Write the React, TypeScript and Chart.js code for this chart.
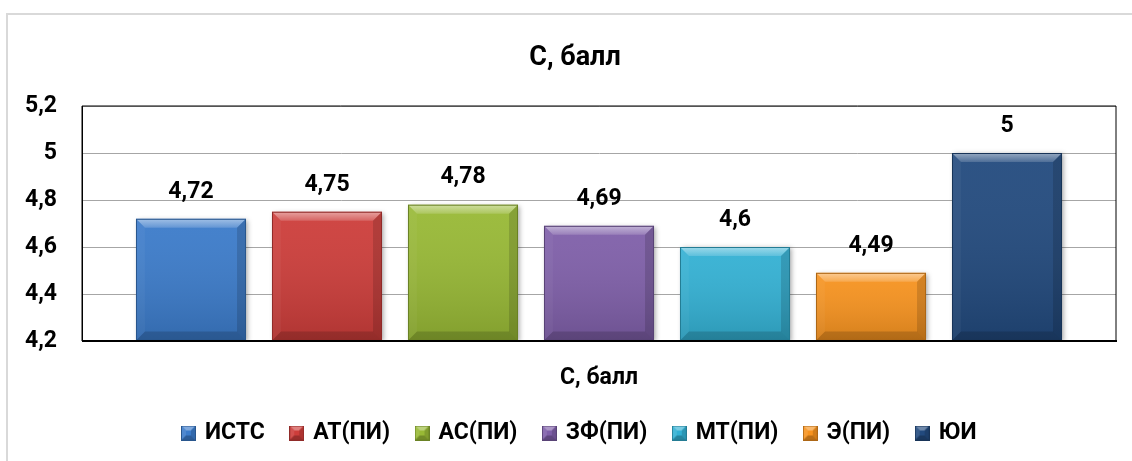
import React, { useEffect, useRef } from 'react';
import { Chart, registerables } from 'chart.js';

Chart.register(...registerables);

const categories = ['С, балл'];
const seriesNames = ['ИСТС', 'АТ(ПИ)', 'АС(ПИ)', 'ЗФ(ПИ)', 'МТ(ПИ)', 'Э(ПИ)', 'ЮИ'];
const seriesValues = [4.72, 4.75, 4.78, 4.69, 4.6, 4.49, 5];
const seriesColors = ['#3b7bca', '#cd3d3a', '#98b935', '#7f5fa9', '#33b1d4', '#f7931f', '#224a7e'];
const yMin = 4.2;
const yMax = 5.2;
const yStep = 0.2;
const titleText = 'С, балл';

const FONT = 'Roboto, "Noto Sans", sans-serif';
const fmt = (v: number) => String(Number(v.toFixed(2))).replace('.', ',');

function hexToRgb(h: string) {
  const n = parseInt(h.slice(1), 16);
  return [(n >> 16) & 255, (n >> 8) & 255, n & 255];
}
function mix(h: string, other: string, t: number) {
  const a = hexToRgb(h);
  const b = hexToRgb(other);
  const c = a.map((v, i) => Math.round(v + (b[i] - v) * t));
  return `rgb(${c[0]},${c[1]},${c[2]})`;
}

function poly(ctx: CanvasRenderingContext2D, pts: number[][], fill: any) {
  ctx.beginPath();
  ctx.moveTo(pts[0][0], pts[0][1]);
  for (let i = 1; i < pts.length; i++) ctx.lineTo(pts[i][0], pts[i][1]);
  ctx.closePath();
  ctx.fillStyle = fill;
  ctx.fill();
}

function makeLegendIcon(color: string) {
  const c = document.createElement('canvas');
  c.width = 15;
  c.height = 15;
  const g = c.getContext('2d') as CanvasRenderingContext2D;
  const s = 15;
  const b = 5;
  g.fillStyle = color;
  g.fillRect(0, 0, s, s);
  poly(g, [[0, 0], [s, 0], [s - b, b], [b, b]], mix(color, '#ffffff', 0.35));
  poly(g, [[0, 0], [b, b], [b, s - b], [0, s]], mix(color, '#ffffff', 0.1));
  poly(g, [[s, 0], [s - b, b], [s - b, s - b], [s, s]], mix(color, '#000000', 0.15));
  poly(g, [[0, s], [b, s - b], [s - b, s - b], [s, s]], mix(color, '#000000', 0.25));
  g.strokeStyle = mix(color, '#000000', 0.3);
  g.lineWidth = 1;
  g.strokeRect(0.5, 0.5, s - 1, s - 1);
  return c;
}

const backgroundPlugin = {
  id: 'bgFrame',
  beforeDraw(chart: any) {
    const ctx = chart.ctx as CanvasRenderingContext2D;
    ctx.save();
    ctx.fillStyle = '#ffffff';
    ctx.fillRect(0, 0, chart.width, chart.height);
    ctx.strokeStyle = '#d9d9d9';
    ctx.lineWidth = 2;
    ctx.strokeRect(7, 14, chart.width + 50, chart.height + 50);
    ctx.restore();
  },
};

const shiftPlugin = {
  id: 'shiftBoxes',
  afterLayout(chart: any) {
    if (chart.legend) {
      chart.legend.left += 12;
      chart.legend.right += 12;
    }
    if (chart.titleBlock) {
      chart.titleBlock.left += 7;
      chart.titleBlock.right += 7;
    }
  },
};

const shadowPlugin = {
  id: 'barShadow',
  beforeDatasetDraw(chart: any) {
    const ctx = chart.ctx as CanvasRenderingContext2D;
    ctx.save();
    ctx.shadowColor = 'rgba(0,0,0,0.35)';
    ctx.shadowBlur = 5;
    ctx.shadowOffsetX = 2;
    ctx.shadowOffsetY = 1;
  },
  afterDatasetDraw(chart: any) {
    chart.ctx.restore();
  },
};

const bevelPlugin = {
  id: 'bevel',
  afterDatasetsDraw(chart: any) {
    const ctx = chart.ctx as CanvasRenderingContext2D;
    const area = chart.chartArea;
    ctx.save();
    chart.data.datasets.forEach((_ds: any, i: number) => {
      const meta = chart.getDatasetMeta(i);
      meta.data.forEach((el: any) => {
        const { x, y, base, width } = el.getProps(['x', 'y', 'base', 'width'], true);
        const l = x - width / 2;
        const r = x + width / 2;
        const t = y;
        const bt = Math.min(base, area.bottom);
        const b = 9;
        const col = seriesColors[i];
        const face = ctx.createLinearGradient(0, t, 0, bt);
        face.addColorStop(0, 'rgba(255,255,255,0.05)');
        face.addColorStop(1, 'rgba(0,0,0,0.14)');
        ctx.fillStyle = face;
        ctx.fillRect(l, t, width, bt - t);
        const tg = ctx.createLinearGradient(0, t, 0, t + b);
        tg.addColorStop(0, 'rgba(255,255,255,0.5)');
        tg.addColorStop(1, 'rgba(255,255,255,0.16)');
        poly(ctx, [[l, t], [r, t], [r - b, t + b], [l + b, t + b]], tg);
        poly(ctx, [[l, t], [l + b, t + b], [l + b, bt - b], [l, bt]], 'rgba(255,255,255,0.04)');
        poly(ctx, [[r, t], [r - b, t + b], [r - b, bt - b], [r, bt]], 'rgba(0,0,0,0.14)');
        poly(ctx, [[l, bt], [l + b, bt - b], [r - b, bt - b], [r, bt]], 'rgba(0,0,0,0.16)');
        ctx.strokeStyle = mix(col, '#000000', 0.3);
        ctx.lineWidth = 1;
        ctx.strokeRect(l + 0.5, t + 0.5, width - 1, bt - t - 1);
      });
    });
    ctx.restore();
  },
};

const framePlugin = {
  id: 'frameLabels',
  afterDraw(chart: any) {
    const ctx = chart.ctx as CanvasRenderingContext2D;
    const a = chart.chartArea;
    ctx.save();
    ctx.strokeStyle = '#000000';
    ctx.lineWidth = 1;
    ctx.beginPath();
    ctx.moveTo(a.left, a.bottom);
    ctx.lineTo(a.left, a.top);
    ctx.lineTo(a.right, a.top);
    ctx.lineTo(a.right, a.bottom);
    ctx.stroke();
    ctx.lineWidth = 2;
    ctx.beginPath();
    ctx.moveTo(a.left, a.bottom);
    ctx.lineTo(a.right + 1, a.bottom);
    ctx.stroke();

    ctx.fillStyle = '#000000';
    ctx.font = `bold 23px ${FONT}`;
    ctx.textAlign = 'center';
    ctx.textBaseline = 'middle';
    chart.data.datasets.forEach((ds: any, i: number) => {
      const meta = chart.getDatasetMeta(i);
      meta.data.forEach((el: any, j: number) => {
        const { x, y } = el.getProps(['x', 'y'], true);
        ctx.fillText(fmt(ds.data[j]), x, y - 27);
      });
    });
    ctx.restore();
  },
};

export default function App() {
  const ref = useRef<HTMLCanvasElement | null>(null);

  useEffect(() => {
    if (!ref.current) return;
    const icons = seriesColors.map((c) => makeLegendIcon(c));
    const chart = new Chart(ref.current, {
      type: 'bar',
      data: {
        labels: categories,
        datasets: seriesNames.map((n, i) => ({
          label: n,
          data: [seriesValues[i]],
          base: yMin,
          backgroundColor: seriesColors[i],
          borderWidth: 0,
          categoryPercentage: 0.9207,
          barPercentage: 0.809,
        })),
      },
      options: {
        responsive: false,
        animation: false,
        events: [],
        layout: { padding: { left: 20, right: 16, top: 0, bottom: 6.5 } },
        plugins: {
          title: {
            display: true,
            text: titleText,
            color: '#000000',
            font: { family: FONT, size: 27, weight: 'bold' },
            padding: { top: 41.8, bottom: 31.8 },
          },
          legend: {
            position: 'bottom',
            labels: {
              usePointStyle: true,
              pointStyleWidth: 10,
              padding: 27,
              color: '#000000',
              font: { family: FONT, size: 23, weight: 'bold' },
              generateLabels: () =>
                seriesNames.map((n, i) => ({
                  text: n,
                  pointStyle: icons[i],
                  fillStyle: seriesColors[i],
                  strokeStyle: 'transparent',
                  lineWidth: 0,
                  hidden: false,
                  datasetIndex: i,
                  fontColor: '#000000',
                })),
            },
          },
          tooltip: { enabled: false },
        },
        scales: {
          x: {
            grid: { display: false, drawTicks: false },
            border: { display: false },
            ticks: {
              color: '#000000',
              padding: 23.5,
              font: { family: FONT, size: 23, weight: 'bold' },
            },
            afterFit: (s: any) => {
              s.height = 53.5;
            },
          },
          y: {
            min: yMin,
            max: yMax,
            ticks: {
              stepSize: yStep,
              color: '#000000',
              padding: 25,
              font: { family: FONT, size: 23, weight: 'bold' },
              callback: (v: any) => fmt(Number(v)),
            },
            grid: { color: '#a6a6a6', lineWidth: 1, drawTicks: false },
            border: { display: true, color: '#000000' },
            afterFit: (s: any) => {
              s.width = 62;
            },
          },
        },
      } as any,
      plugins: [backgroundPlugin, shiftPlugin, shadowPlugin, bevelPlugin, framePlugin],
    });
    return () => chart.destroy();
  }, []);

  return (
    <div style={{ position: 'absolute', left: 0, top: 0, width: 1132, height: 461 }}>
      <canvas ref={ref} width={1132} height={461} style={{ display: 'block', width: 1132, height: 461 }} />
    </div>
  );
}
